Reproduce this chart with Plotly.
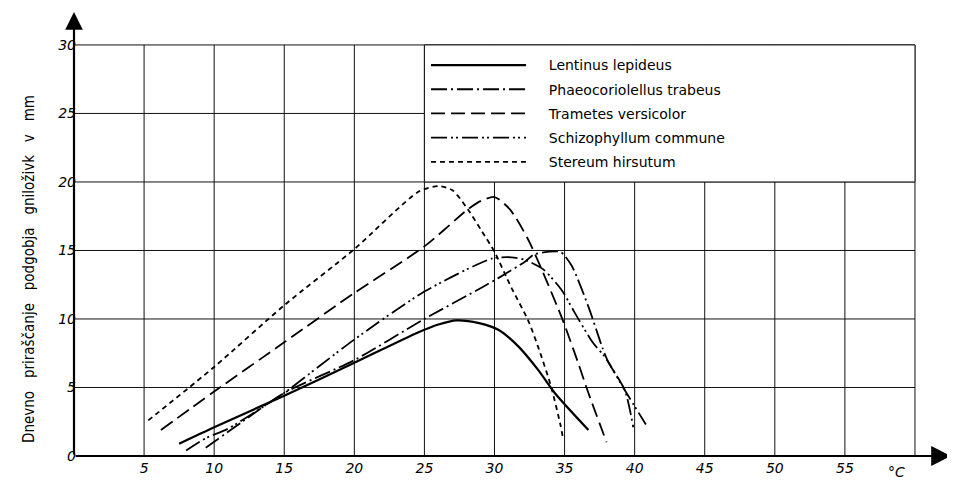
import plotly.graph_objects as go

# ---- data ----
lentinus_x = [7.5, 10, 15, 20, 24.5, 26, 27.3, 28.9, 30.3, 31.7, 33.1, 34.3, 36.7]
lentinus_y = [0.9, 2.1, 4.4, 6.8, 9.0, 9.6, 9.9, 9.7, 9.2, 8.0, 6.3, 4.6, 1.9]

phaeo_x = [9.4, 12, 15, 20, 25, 29.1, 30.3, 32.2, 32.8, 33.8, 34.7, 35.5, 36.7, 37.7, 38.1, 39.3, 39.9]
phaeo_y = [0.6, 2.5, 4.6, 7.0, 10.0, 12.3, 13.0, 14.2, 14.7, 14.9, 14.9, 13.9, 10.9, 7.9, 6.9, 4.8, 2.1]

trametes_x = [6.2, 10, 15, 20, 25, 28.1, 29.0, 30.0, 31.1, 32.4, 34.8, 36.0, 36.7, 38.0]
trametes_y = [1.9, 4.7, 8.3, 11.9, 15.3, 18.0, 18.6, 18.9, 18.0, 15.8, 10.1, 6.7, 4.6, 1.0]

schizo_x = [8.0, 9.4, 11, 14.4, 15, 20, 25, 29.8, 31.2, 32.2, 33.5, 34.8, 35.7, 37.0, 37.9, 39.3, 40.8]
schizo_y = [0.4, 1.3, 2.0, 4.2, 4.6, 8.5, 12.0, 14.4, 14.5, 14.3, 13.6, 12.1, 10.5, 8.3, 7.2, 4.8, 2.3]

stereum_x = [5.3, 10, 15, 20, 24.6, 26, 27, 28.1, 29.1, 30, 31.2, 32.4, 33.1, 34.0, 34.7, 34.9]
stereum_y = [2.6, 6.5, 11.0, 15.1, 19.3, 19.7, 19.4, 18.0, 16.4, 14.9, 12.3, 9.9, 8.0, 5.2, 2.3, 1.2]

series_names = ["Lentinus lepideus", "Phaeocoriolellus trabeus", "Trametes versicolor",
                "Schizophyllum commune", "Stereum hirsutum"]

x_ticks = [5, 10, 15, 20, 25, 30, 35, 40, 45, 50, 55]
x_tick_labels = ["5", "10", "15", "20", "25", "30", "35", "40", "45", "50", "55"]
y_ticks = [0, 5, 10, 15, 20, 25, 30]
y_tick_labels = ["0", "5", "10", "15", "20", "25", "30"]
grid_x = [5, 10, 15, 20, 25, 30, 35, 40, 45, 50, 55, 60]
grid_y = [5, 10, 15, 20, 25, 30]
x_unit = "°C"
y_title = "\u00a0\u00a0\u00a0".join(["Dnevno", "priraščanje", "podgobja", "gniloživk", "v", "mm"])

# ---- styles ----
dashes = ["solid", "16px,4px,2px,4px", "14px,6px", "16px,4px,2px,3px,2px,4px", "5px,4px"]
widths = [2.2, 1.8, 1.8, 1.8, 1.8]
legend_pad = "\u00a0\u00a0\u00a0\u00a0"

fig = go.Figure()
data = [(lentinus_x, lentinus_y), (phaeo_x, phaeo_y), (trametes_x, trametes_y),
        (schizo_x, schizo_y), (stereum_x, stereum_y)]
for i, ((xs, ys), name) in enumerate(zip(data, series_names)):
    fig.add_trace(go.Scatter(
        x=xs, y=ys, mode="lines", name=legend_pad + name, legendgroup=name,
        line=dict(color="black", width=widths[i], dash=dashes[i], shape="spline", smoothing=0.7),
    ))

shapes = []
for xv in grid_x:
    shapes.append(dict(type="line", xref="x", yref="y", x0=xv, x1=xv, y0=0, y1=max(grid_y),
                       line=dict(color="#111", width=1), layer="below"))
for yv in grid_y:
    shapes.append(dict(type="line", xref="x", yref="y", x0=0, x1=max(grid_x), y0=yv, y1=yv,
                       line=dict(color="#111", width=1), layer="below"))
# legend box (covers the grid from x=25..60, y=20..30)
shapes.append(dict(type="rect", xref="x", yref="y", x0=25, x1=max(grid_x), y0=20, y1=max(grid_y),
                   fillcolor="white", line=dict(color="#111", width=1), layer="below"))

x_max = 62.57
y_max = 32.55

annotations = [
    dict(x=x_max, y=0, ax=0, ay=0, xref="x", yref="y", axref="x", ayref="y", text="",
         showarrow=True, arrowhead=2, arrowsize=1.8, arrowwidth=2.2, arrowcolor="black",
         standoff=0, startstandoff=0),
    dict(x=0, y=32.4, ax=0, ay=0, xref="x", yref="y", axref="x", ayref="y", text="",
         showarrow=True, arrowhead=2, arrowsize=1.6, arrowwidth=2.2, arrowcolor="black",
         standoff=0, startstandoff=0),
    dict(x=60, y=0, xref="x", yref="y", text=x_unit, showarrow=False, xshift=-18, yshift=-16,
         font=dict(family="DejaVu Sans", size=14, color="black", style="italic")),
    dict(x=0, y=13.65, xref="paper", yref="y", text=y_title, showarrow=False, textangle=-90,
         xshift=-56, font=dict(family="DejaVu Sans Condensed, DejaVu Sans", size=15, color="black")),
]

fig.update_layout(
    width=945, height=472,
    margin=dict(l=66, r=2, t=2, b=24),
    paper_bgcolor="white", plot_bgcolor="white",
    shapes=shapes, annotations=annotations,
    showlegend=True,
    legend=dict(x=0.4014, y=0.9116, xanchor="left", yanchor="top", bgcolor="rgba(0,0,0,0)",
                borderwidth=0, itemwidth=95, tracegroupgap=3, traceorder="grouped",
                font=dict(family="DejaVu Sans", size=14, color="black")),
    xaxis=dict(range=[0, x_max], showgrid=False, zeroline=False, showline=False,
               tickmode="array", tickvals=x_ticks, ticktext=x_tick_labels, ticks="",
               ticklabelstandoff=2,
               tickfont=dict(family="DejaVu Sans", size=14, color="black", style="italic"),
               automargin=False, fixedrange=True),
    yaxis=dict(range=[0, y_max], showgrid=False, zeroline=False, showline=False,
               tickmode="array", tickvals=y_ticks, ticktext=y_tick_labels, ticks="",
               ticklabelstandoff=-3,
               tickfont=dict(family="DejaVu Sans", size=14, color="black", style="italic"),
               automargin=False, fixedrange=True),
)

fig.write_html("out.html")
